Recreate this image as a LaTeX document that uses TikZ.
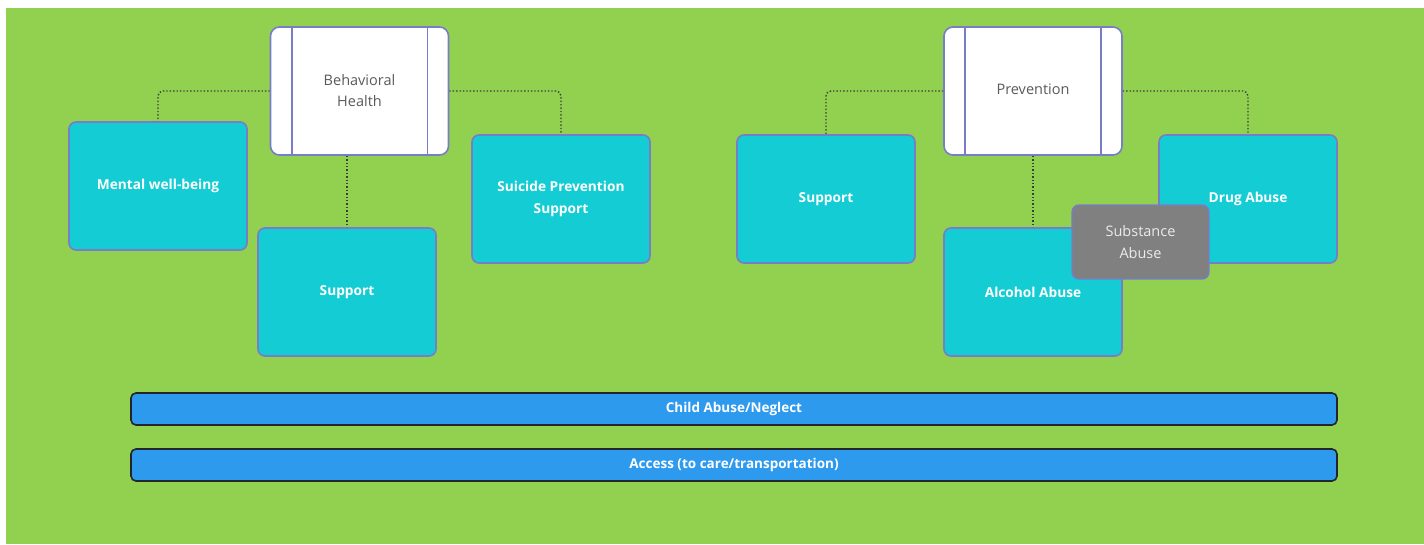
\documentclass[tikz,border=0pt]{standalone}
\usepackage{fontspec}
\setmainfont{Open Sans}
\usetikzlibrary{positioning}
\definecolor{bggreen}{RGB}{146,208,80}
\definecolor{teal}{RGB}{19,204,212}
\definecolor{boxline}{RGB}{120,125,200}
\definecolor{barblue}{RGB}{46,154,238}
\definecolor{bardark}{RGB}{34,38,44}
\definecolor{sgray}{RGB}{128,128,128}
\definecolor{txtgray}{RGB}{90,90,90}
\definecolor{dotc}{RGB}{60,60,60}
\tikzset{
  tealbox/.style={draw=boxline, line width=1.6pt, fill=teal, rounded corners=7pt,
    minimum width=178pt, minimum height=128pt, inner sep=0pt, text=white,
    font=\fontsize{13.7}{22}\selectfont\bfseries, align=center},
  procbox/.style={draw=boxline, line width=1.6pt, fill=white, rounded corners=9pt,
    minimum width=178pt, minimum height=128pt, inner sep=0pt, text=txtgray,
    font=\fontsize{14.5}{21}\selectfont, align=center},
  graybox/.style={draw=boxline, line width=1.4pt, fill=sgray, rounded corners=7pt,
    minimum width=137pt, minimum height=74pt, inner sep=0pt, text=white!92!black,
    font=\fontsize{14.5}{22}\selectfont, align=center},
  barbox/.style={draw=bardark, line width=1.6pt, fill=barblue, rounded corners=5pt,
    minimum width=1206pt, minimum height=32pt, inner sep=0pt, text=white,
    font=\fontsize{13.5}{16}\selectfont\bfseries},
  conn/.style={draw=dotc, line width=1.4pt, dotted, rounded corners=5pt},
}
\begin{document}
\begin{tikzpicture}[x=1pt,y=-1pt]
\useasboundingbox (0,0) rectangle (1424,544);
\fill[white] (0,0) rectangle (1424,544);
\fill[bggreen] (6,8) rectangle (1424,544);

\node[tealbox] (mental) at (158,186) {Mental well-being};
\node[tealbox] (supL) at (347,292) {Support};
\node[tealbox] (suic) at (561,199) {Suicide Prevention\\Support};
\node[tealbox] (supR) at (826,199) {Support};
\node[tealbox] (alc) at (1033,292) {Alcohol Abuse};
\node[tealbox] (drug) at (1248,199) {Drug Abuse};

\node[procbox] (bh) at (359.5,91) {Behavioral\\Health};
\draw[boxline, line width=1.6pt] ([xshift=22pt]bh.north west) -- ([xshift=22pt]bh.south west);
\draw[boxline, line width=1.6pt] ([xshift=-22pt]bh.north east) -- ([xshift=-22pt]bh.south east);
\node[procbox] (pv) at (1033,91) {};
\node[text=txtgray, font=\fontsize{14.5}{21}\selectfont] (pvtext) at (1033,89) {Prevention};
\draw[boxline, line width=1.6pt] ([xshift=22pt]pv.north west) -- ([xshift=22pt]pv.south west);
\draw[boxline, line width=1.6pt] ([xshift=-22pt]pv.north east) -- ([xshift=-22pt]pv.south east);

\draw[conn] (bh.west) -| (mental.north);
\draw[conn] (bh.east) -| (suic.north);
\draw[conn] (bh.south -| supL.north) -- (supL.north);
\draw[conn] (pv.west) -| (supR.north);
\draw[conn] (pv.east) -| (drug.north);
\draw[conn] (pv.south) -- (alc.north);

\node[graybox] (subst) at (1140.5,242) {Substance\\Abuse};

\node[barbox] (child) at (734,409) {Child Abuse/Neglect};
\node[barbox] (access) at (734,465) {Access (to care/transportation)};
\end{tikzpicture}
\end{document}
